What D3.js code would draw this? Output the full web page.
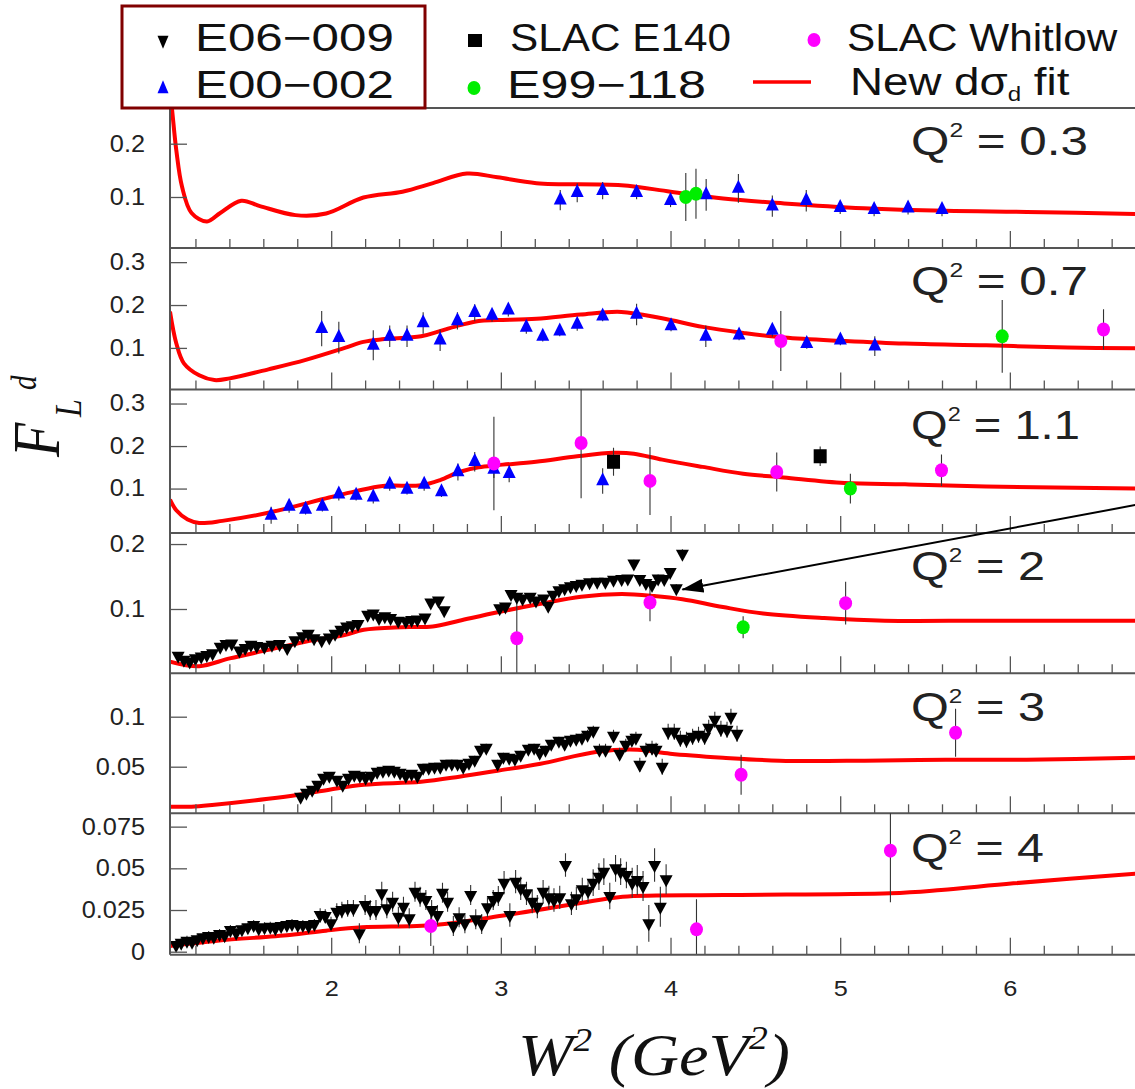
<!DOCTYPE html>
<html>
<head>
<meta charset="utf-8">
<script src="https://cdn.jsdelivr.net/npm/d3@7/dist/d3.min.js"></script>
<style>
body { margin: 0; background: #fff; }
svg { display: block; font-family: "Liberation Sans", Arial, sans-serif; }
</style>
</head>
<body>
<div id="chart"></div>
<script>
// ---- data: F_L^d vs W^2 for six Q^2 bins ----
var q2Labels = ["0.3", "0.7", "1.1", "2", "3", "4"];
var xMajor = [2, 3, 4, 5, 6];
var yTickVals = [[0.1, 0.2], [0.1, 0.2, 0.3], [0.1, 0.2, 0.3], [0.1, 0.2], [0.05, 0.1], [0, 0.025, 0.05, 0.075]];
var yDomains = [[0.0043, 0.267], [0.003, 0.333], [-0.0045, 0.333], [0.001, 0.217], [0.0034, 0.1434], [-0.0018, 0.083]];
var xDomain = [1.05, 6.767];

// new d-sigma_d fit curves [W2, FL]
var fitQ03 = [[1.04,0.32],[1.06,0.27],[1.087,0.188],[1.121,0.119],[1.177,0.070],[1.268,0.054],[1.346,0.070],[1.47,0.093],[1.58,0.083],[1.79,0.066],[1.97,0.069],[2.19,0.099],[2.42,0.110],[2.6,0.126],[2.8,0.144],[2.98,0.137],[3.21,0.126],[3.71,0.122],[4.0,0.110],[4.31,0.097],[4.67,0.088],[5.14,0.079],[5.62,0.074],[6.1,0.072],[6.77,0.068]];
var fitQ07 = [[1.05,0.185],[1.087,0.111],[1.132,0.064],[1.222,0.036],[1.312,0.025],[1.402,0.029],[1.63,0.050],[1.85,0.072],[2.08,0.100],[2.19,0.114],[2.3,0.120],[2.53,0.127],[2.64,0.139],[2.76,0.153],[2.87,0.163],[2.98,0.165],[3.21,0.168],[3.47,0.178],[3.71,0.184],[3.95,0.169],[4.19,0.149],[4.43,0.135],[4.67,0.124],[5.03,0.116],[5.38,0.110],[5.86,0.106],[6.34,0.101],[6.77,0.099]];
var fitQ11 = [[1.05,0.074],[1.087,0.049],[1.154,0.027],[1.222,0.019],[1.358,0.024],[1.629,0.043],[1.988,0.079],[2.147,0.094],[2.305,0.106],[2.53,0.108],[2.642,0.120],[2.755,0.139],[2.869,0.150],[2.981,0.155],[3.207,0.163],[3.45,0.176],[3.664,0.184],[3.784,0.182],[3.951,0.168],[4.189,0.151],[4.428,0.135],[4.667,0.126],[5.025,0.113],[5.382,0.110],[5.86,0.105],[6.77,0.100]];
var fitQ2 = [[1.05,0.019],[1.222,0.012],[1.402,0.024],[1.629,0.037],[1.853,0.050],[2.079,0.060],[2.192,0.068],[2.417,0.072],[2.598,0.073],[2.755,0.082],[2.981,0.095],[3.234,0.108],[3.473,0.119],[3.712,0.123],[3.903,0.120],[4.07,0.115],[4.309,0.103],[4.546,0.093],[4.905,0.086],[5.263,0.082],[5.86,0.082],[6.77,0.082]];
var fitQ3 = [[1.05,0.010],[1.177,0.010],[1.312,0.012],[1.629,0.018],[1.808,0.022],[1.989,0.027],[2.192,0.032],[2.53,0.035],[2.755,0.040],[2.981,0.046],[3.234,0.053],[3.569,0.065],[3.807,0.067],[3.998,0.063],[4.309,0.059],[4.643,0.056],[5.144,0.056],[5.621,0.057],[6.098,0.057],[6.77,0.059]];
var fitQ4 = [[1.048,0.0034],[1.329,0.0066],[1.755,0.010],[1.969,0.0126],[2.182,0.0146],[2.609,0.016],[3.035,0.022],[3.462,0.029],[3.718,0.033],[4.315,0.034],[5.296,0.035],[5.595,0.037],[6.021,0.041],[6.77,0.047]];

// E00-002 (blue up triangles) [W2, FL, err]
var e00Q03 = [[3.35,0.094,0.019],[3.45,0.108,0.018],[3.60,0.112,0.016],[3.80,0.108,0.012],[4.00,0.093,0.012],[4.21,0.104,0.030],[4.40,0.116,0.027],[4.60,0.083,0.020],[4.80,0.093,0.020],[5.00,0.080,0.012],[5.20,0.076,0.012],[5.40,0.079,0.012],[5.60,0.076,0.012]];
var e00Q07 = [[1.944,0.145,0.041],[2.045,0.124,0.037],[2.248,0.106,0.035],[2.345,0.127,0.025],[2.447,0.127,0.025],[2.542,0.158,0.025],[2.642,0.118,0.025],[2.744,0.163,0.020],[2.846,0.182,0.020],[2.948,0.176,0.015],[3.044,0.188,0.015],[3.15,0.148,0.015],[3.247,0.127,0.012],[3.347,0.139,0.012],[3.45,0.155,0.015],[3.60,0.174,0.012],[3.80,0.178,0.025],[4.003,0.151,0.012],[4.208,0.127,0.025],[4.404,0.130,0.012],[4.60,0.141,0.015],[4.803,0.110,0.012],[5.001,0.118,0.012],[5.204,0.104,0.023]];
var e00Q11 = [[1.646,0.037,0.020],[1.752,0.058,0.015],[1.849,0.051,0.012],[1.948,0.058,0.012],[2.045,0.087,0.015],[2.147,0.084,0.012],[2.248,0.080,0.015],[2.345,0.110,0.015],[2.447,0.098,0.012],[2.548,0.110,0.015],[2.650,0.092,0.012],[2.747,0.139,0.020],[2.846,0.163,0.023],[2.959,0.145,0.020],[3.049,0.135,0.020],[3.600,0.118,0.030]];

// E06-009 (black down triangles) [W2, FL, err]
var e06Q2 = [[1.098,0.028,0.003],[1.132,0.022,0.003],[1.166,0.019,0.003],[1.200,0.024,0.003],[1.234,0.027,0.003],[1.267,0.029,0.003],[1.301,0.032,0.003],[1.346,0.042,0.003],[1.380,0.046,0.003],[1.414,0.047,0.003],[1.459,0.036,0.003],[1.493,0.040,0.003],[1.527,0.045,0.003],[1.561,0.043,0.003],[1.606,0.042,0.003],[1.651,0.045,0.003],[1.696,0.046,0.003],[1.741,0.040,0.003],[1.786,0.052,0.003],[1.831,0.058,0.003],[1.865,0.062,0.003],[1.899,0.055,0.003],[1.944,0.052,0.003],[1.989,0.056,0.003],[2.023,0.062,0.003],[2.057,0.068,0.003],[2.091,0.073,0.003],[2.124,0.075,0.003],[2.158,0.077,0.003],[2.215,0.091,0.004],[2.248,0.093,0.004],[2.282,0.086,0.004],[2.316,0.089,0.004],[2.350,0.086,0.004],[2.395,0.082,0.004],[2.440,0.081,0.004],[2.474,0.083,0.004],[2.508,0.084,0.004],[2.553,0.087,0.004],[2.587,0.110,0.004],[2.632,0.113,0.004],[2.666,0.098,0.004],[2.993,0.101,0.005],[3.027,0.104,0.005],[3.060,0.123,0.005],[3.094,0.119,0.005],[3.128,0.116,0.005],[3.173,0.119,0.005],[3.207,0.113,0.005],[3.252,0.116,0.005],[3.279,0.105,0.005],[3.308,0.122,0.005],[3.342,0.129,0.005],[3.376,0.132,0.005],[3.410,0.135,0.005],[3.444,0.137,0.005],[3.478,0.139,0.005],[3.523,0.141,0.005],[3.568,0.142,0.005],[3.616,0.142,0.005],[3.664,0.145,0.005],[3.712,0.146,0.005],[3.748,0.147,0.005],[3.784,0.170,0.006],[3.819,0.146,0.006],[3.855,0.140,0.006],[3.891,0.137,0.006],[3.927,0.147,0.006],[3.963,0.146,0.006],[3.998,0.157,0.006],[4.034,0.132,0.006],[4.070,0.185,0.007]];
var e06Q3 = [[1.820,0.020,0.003],[1.854,0.024,0.003],[1.888,0.027,0.003],[1.921,0.032,0.003],[1.955,0.039,0.003],[1.989,0.041,0.003],[2.034,0.037,0.003],[2.068,0.032,0.003],[2.102,0.039,0.003],[2.136,0.042,0.003],[2.169,0.041,0.003],[2.203,0.039,0.003],[2.237,0.041,0.003],[2.271,0.045,0.003],[2.305,0.046,0.003],[2.339,0.047,0.003],[2.372,0.046,0.003],[2.406,0.044,0.003],[2.440,0.041,0.003],[2.474,0.043,0.003],[2.508,0.041,0.003],[2.542,0.049,0.003],[2.575,0.049,0.003],[2.609,0.050,0.003],[2.643,0.050,0.003],[2.677,0.053,0.003],[2.711,0.053,0.003],[2.745,0.053,0.003],[2.778,0.050,0.003],[2.812,0.054,0.004],[2.846,0.057,0.004],[2.880,0.067,0.004],[2.914,0.069,0.004],[2.981,0.053,0.004],[3.015,0.060,0.004],[3.049,0.059,0.004],[3.083,0.058,0.004],[3.117,0.062,0.004],[3.162,0.068,0.004],[3.196,0.069,0.004],[3.229,0.064,0.004],[3.263,0.067,0.004],[3.297,0.073,0.004],[3.342,0.076,0.004],[3.376,0.073,0.004],[3.410,0.077,0.004],[3.444,0.078,0.005],[3.478,0.079,0.005],[3.511,0.082,0.005],[3.545,0.086,0.005],[3.581,0.067,0.006],[3.617,0.067,0.006],[3.664,0.081,0.006],[3.700,0.063,0.006],[3.736,0.072,0.006],[3.772,0.077,0.006],[3.796,0.079,0.006],[3.819,0.052,0.007],[3.855,0.067,0.007],[3.891,0.069,0.007],[3.915,0.067,0.007],[3.951,0.050,0.008],[3.986,0.085,0.008],[4.022,0.085,0.008],[4.058,0.078,0.008],[4.094,0.077,0.008],[4.130,0.080,0.008],[4.165,0.082,0.008],[4.201,0.080,0.008],[4.225,0.089,0.008],[4.261,0.097,0.008],[4.297,0.088,0.008],[4.333,0.087,0.008],[4.356,0.100,0.008],[4.392,0.083,0.008]];
var e06Q4 = [[1.086,0.0040,0.003],[1.116,0.0054,0.003],[1.150,0.0066,0.003],[1.180,0.0060,0.003],[1.210,0.0074,0.003],[1.244,0.0086,0.003],[1.278,0.0094,0.003],[1.308,0.0090,0.003],[1.342,0.0106,0.003],[1.372,0.0098,0.003],[1.406,0.0130,0.003],[1.440,0.0114,0.003],[1.474,0.0134,0.003],[1.509,0.0146,0.003],[1.543,0.0160,0.003],[1.573,0.0140,0.003],[1.607,0.0146,0.003],[1.641,0.0150,0.003],[1.671,0.0140,0.003],[1.705,0.0154,0.003],[1.739,0.0160,0.003],[1.769,0.0166,0.003],[1.803,0.0160,0.003],[1.833,0.0160,0.003],[1.867,0.0154,0.003],[1.901,0.0166,0.003],[1.935,0.0220,0.004],[1.965,0.0214,0.004],[1.999,0.0170,0.004],[2.033,0.0240,0.005],[2.063,0.0250,0.005],[2.097,0.0260,0.005],[2.131,0.0260,0.005],[2.166,0.0110,0.006],[2.200,0.0280,0.006],[2.230,0.0250,0.006],[2.264,0.0250,0.006],[2.298,0.0350,0.007],[2.328,0.0260,0.006],[2.362,0.0300,0.006],[2.396,0.0210,0.006],[2.426,0.0270,0.006],[2.460,0.0200,0.006],[2.494,0.0360,0.006],[2.524,0.0330,0.006],[2.558,0.0310,0.006],[2.592,0.0250,0.006],[2.626,0.0220,0.006],[2.656,0.0354,0.006],[2.686,0.0300,0.006],[2.720,0.0154,0.006],[2.754,0.0206,0.006],[2.788,0.0170,0.006],[2.822,0.0340,0.006],[2.852,0.0194,0.006],[2.887,0.0166,0.006],[2.921,0.0266,0.006],[2.955,0.0310,0.006],[2.985,0.0334,0.006],[3.019,0.0414,0.007],[3.053,0.0220,0.007],[3.087,0.0420,0.007],[3.117,0.0380,0.007],[3.151,0.0350,0.007],[3.185,0.0300,0.007],[3.215,0.0270,0.007],[3.249,0.0360,0.007],[3.283,0.0326,0.007],[3.313,0.0310,0.007],[3.347,0.0326,0.007],[3.381,0.0520,0.007],[3.416,0.0290,0.007],[3.445,0.0320,0.007],[3.480,0.0374,0.007],[3.514,0.0366,0.007],[3.544,0.0414,0.008],[3.578,0.0450,0.008],[3.607,0.0480,0.008],[3.642,0.0334,0.008],[3.676,0.0500,0.008],[3.706,0.0480,0.008],[3.740,0.0460,0.008],[3.774,0.0414,0.009],[3.804,0.0430,0.009],[3.838,0.0394,0.009],[3.872,0.0170,0.011],[3.906,0.0520,0.010],[3.940,0.0270,0.012],[3.974,0.0434,0.009]];

// SLAC E140 (black squares), E99-118 (green), SLAC Whitlow (magenta) [W2, FL, err]
var e140Q11 = [[3.664,0.163,0.033],[4.882,0.176,0.023]];
var e99Q03 = [[4.09,0.100,0.045],[4.15,0.106,0.047]];
var e99Q07 = [[5.955,0.127,0.085]];
var e99Q11 = [[5.060,0.100,0.035]];
var e99Q2 = [[4.428,0.072,0.017]];
var whitQ07 = [[4.65,0.116,0.070],[6.552,0.143,0.047]];
var whitQ11 = [[2.959,0.159,0.110],[3.473,0.207,0.130],[3.879,0.118,0.080],[4.626,0.139,0.046],[5.597,0.143,0.037]];
var whitQ2 = [[3.094,0.055,0.058],[3.879,0.110,0.029],[5.032,0.109,0.033]];
var whitQ3 = [[4.416,0.042,0.020],[5.680,0.084,0.024]];
var whitQ4 = [[2.587,0.0154,0.012],[4.153,0.0134,0.018],[5.296,0.0606,0.031]];

// arrow annotation in the Q2=2 panel: [W2, FL] tail and tip
var arrowTail = [6.80, 0.263];
var arrowTip = [4.07, 0.130];

var panels = [
    {fit: fitQ03, e00: e00Q03, e06: [], e140: [], e99: e99Q03, whit: []},
    {fit: fitQ07, e00: e00Q07, e06: [], e140: [], e99: e99Q07, whit: whitQ07},
    {fit: fitQ11, e00: e00Q11, e06: [], e140: e140Q11, e99: e99Q11, whit: whitQ11},
    {fit: fitQ2, e00: [], e06: e06Q2, e140: [], e99: e99Q2, whit: whitQ2},
    {fit: fitQ3, e00: [], e06: e06Q3, e140: [], e99: [], whit: whitQ3},
    {fit: fitQ4, e00: [], e06: e06Q4, e140: [], e99: [], whit: whitQ4}
];

// ---- layout ----
var width = 1135, height = 1089;
var plotLeft = 170, plotRight = 1140;
var panelEdges = [108, 248, 389.5, 533, 673.3, 813.3, 954.7];
var q2Baselines = [155, 295, 439, 580, 721, 862];
var q2Right = [1088, 1088, 1080, 1045, 1045, 1044];
var frameColor = "#555";

var svg = d3.select("#chart").append("svg")
    .attr("width", width)
    .attr("height", height);

var defs = svg.append("defs");
defs.append("marker")
    .attr("id", "arrowhead")
    .attr("markerUnits", "userSpaceOnUse")
    .attr("viewBox", "0 0 22 14")
    .attr("refX", 21).attr("refY", 7)
    .attr("markerWidth", 22).attr("markerHeight", 14)
    .attr("orient", "auto")
    .append("path")
    .attr("d", "M0,0 L22,7 L0,14 Z")
    .attr("fill", "#000");

var x = d3.scaleLinear().domain(xDomain).range([plotLeft, plotRight]);
var xMinor = d3.range(12, 68, 2).filter(function(v) { return v % 10 !== 0; }).map(function(v) { return v / 10; });

function triPath(w, h, down) {
    var s = down ? -1 : 1;
    return "M" + (-w / 2) + "," + (s * h / 3) + "L" + (w / 2) + "," + (s * h / 3) + "L0," + (-s * 2 * h / 3) + "Z";
}

// stretch a text horizontally so that it spans [x0, x1]
function fitText(t, x0, x1, baseline) {
    var w = t.node().getBBox().width;
    t.attr("transform", "translate(" + x0 + "," + baseline + ") scale(" + ((x1 - x0) / w) + ",1)");
}

function yFormat(d) { return d === 0 ? "0" : String(d); }

panels.forEach(function(p, i) {
    var top = panelEdges[i], bot = panelEdges[i + 1];
    var y = d3.scaleLinear().domain(yDomains[i]).range([bot, top]);
    var g = svg.append("g").attr("class", "panel");

    defs.append("clipPath").attr("id", "clip" + i)
        .append("rect")
        .attr("x", plotLeft).attr("y", top)
        .attr("width", plotRight - plotLeft).attr("height", bot - top);

    // fit curve
    g.append("path")
        .datum(p.fit)
        .attr("clip-path", "url(#clip" + i + ")")
        .attr("fill", "none")
        .attr("stroke", "#ff0000")
        .attr("stroke-width", 4)
        .attr("stroke-linejoin", "round")
        .attr("d", d3.line()
            .x(function(d) { return x(d[0]); })
            .y(function(d) { return y(d[1]); })
            .curve(d3.curveCatmullRom.alpha(0.5)));

    // error bars for all series
    var allPts = [].concat(p.e00, p.e06, p.e140, p.e99, p.whit);
    g.append("g").attr("clip-path", "url(#clip" + i + ")")
        .selectAll("line")
        .data(allPts)
        .enter().append("line")
        .attr("x1", function(d) { return x(d[0]); })
        .attr("x2", function(d) { return x(d[0]); })
        .attr("y1", function(d) { return y(d[1] - d[2]); })
        .attr("y2", function(d) { return y(d[1] + d[2]); })
        .attr("stroke", "#333")
        .attr("stroke-width", 1.1);

    g.selectAll(".e00")
        .data(p.e00)
        .enter().append("path")
        .attr("class", "e00")
        .attr("transform", function(d) { return "translate(" + x(d[0]) + "," + y(d[1]) + ")"; })
        .attr("d", triPath(13, 13, false))
        .attr("fill", "#0000ff");

    g.selectAll(".e06")
        .data(p.e06)
        .enter().append("path")
        .attr("class", "e06")
        .attr("transform", function(d) { return "translate(" + x(d[0]) + "," + y(d[1]) + ")"; })
        .attr("d", triPath(13, 12, true))
        .attr("fill", "#000");

    g.selectAll(".e140")
        .data(p.e140)
        .enter().append("rect")
        .attr("class", "e140")
        .attr("x", function(d) { return x(d[0]) - 6.5; })
        .attr("y", function(d) { return y(d[1]) - 7; })
        .attr("width", 13).attr("height", 14)
        .attr("fill", "#000");

    g.selectAll(".e99")
        .data(p.e99)
        .enter().append("ellipse")
        .attr("class", "e99")
        .attr("cx", function(d) { return x(d[0]); })
        .attr("cy", function(d) { return y(d[1]); })
        .attr("rx", 6.5).attr("ry", 7)
        .attr("fill", "#00ee00");

    g.selectAll(".whit")
        .data(p.whit)
        .enter().append("ellipse")
        .attr("class", "whit")
        .attr("cx", function(d) { return x(d[0]); })
        .attr("cy", function(d) { return y(d[1]); })
        .attr("rx", 6.5).attr("ry", 7)
        .attr("fill", "#ff00ff");

    // x ticks (inside, on the bottom edge of each panel)
    var xMin = g.append("g").attr("transform", "translate(0," + bot + ")")
        .call(d3.axisBottom(x).tickValues(xMinor).tickSize(-9).tickFormat(""));
    var xMaj = g.append("g").attr("transform", "translate(0," + bot + ")")
        .call(d3.axisBottom(x).tickValues(xMajor).tickSize(-17).tickFormat(""));
    [xMin, xMaj].forEach(function(a) {
        a.select(".domain").remove();
        a.selectAll(".tick line").attr("stroke", frameColor).attr("stroke-width", 1.3);
    });

    // y ticks and labels
    var yAx = g.append("g").attr("transform", "translate(" + plotLeft + ",0)")
        .call(d3.axisLeft(y).tickValues(yTickVals[i]).tickSize(-17).tickPadding(25).tickFormat(yFormat));
    yAx.select(".domain").remove();
    yAx.selectAll(".tick line").attr("stroke", frameColor).attr("stroke-width", 1.3);
    yAx.selectAll(".tick text")
        .attr("font-size", 23)
        .attr("font-family", "Liberation Sans, Arial, sans-serif")
        .attr("fill", "#222")
        .attr("transform", "translate(-25,0) scale(1.1,1) translate(25,0)");

    // bottom frame line
    g.append("line")
        .attr("x1", plotLeft).attr("x2", plotRight)
        .attr("y1", bot).attr("y2", bot)
        .attr("stroke", frameColor).attr("stroke-width", 2);

    // Q^2 label
    var q = g.append("text")
        .attr("font-size", 40)
        .attr("fill", "#222");
    q.append("tspan").text("Q");
    q.append("tspan").attr("font-size", 20).attr("dy", -18).text("2");
    q.append("tspan").attr("dy", 18).text(" = " + q2Labels[i]);
    fitText(q, 911, q2Right[i], q2Baselines[i]);

    if (i === 3) {
        svg.append("line")
            .attr("x1", x(arrowTail[0])).attr("y1", y(arrowTail[1]))
            .attr("x2", x(arrowTip[0])).attr("y2", y(arrowTip[1]))
            .attr("stroke", "#000")
            .attr("stroke-width", 2)
            .attr("marker-end", "url(#arrowhead)");
    }
});

// top frame and left axis line
svg.append("line")
    .attr("x1", plotLeft).attr("x2", plotRight)
    .attr("y1", panelEdges[0]).attr("y2", panelEdges[0])
    .attr("stroke", frameColor).attr("stroke-width", 2);
svg.append("line")
    .attr("x1", plotLeft).attr("x2", plotLeft)
    .attr("y1", panelEdges[0]).attr("y2", panelEdges[6])
    .attr("stroke", frameColor).attr("stroke-width", 2);

// x tick labels under the last panel
var xLab = svg.append("g").attr("transform", "translate(0," + panelEdges[6] + ")")
    .call(d3.axisBottom(x).tickValues(xMajor).tickSize(0).tickPadding(26).tickFormat(d3.format("d")));
xLab.select(".domain").remove();
xLab.selectAll(".tick text")
    .attr("font-size", 22)
    .attr("font-family", "Liberation Sans, Arial, sans-serif")
    .attr("fill", "#222")
    .attr("transform", "scale(1.15,1)");

// axis titles
var xt = svg.append("text")
    .attr("font-family", "Liberation Serif, Times New Roman, serif")
    .attr("font-style", "italic")
    .attr("font-size", 60)
    .attr("fill", "#111");
xt.append("tspan").text("W");
xt.append("tspan").attr("font-size", 34).attr("dy", -24).text("2");
xt.append("tspan").attr("dy", 24).text(" (GeV");
xt.append("tspan").attr("font-size", 34).attr("dy", -26).text("2");
xt.append("tspan").attr("dy", 26).text(")");
fitText(xt, 518, 790, 1075);

var yt = svg.append("text")
    .attr("font-family", "Liberation Serif, Times New Roman, serif")
    .attr("font-style", "italic")
    .attr("font-size", 56)
    .attr("fill", "#111")
    .attr("transform", "translate(59,457) scale(1.2,1) rotate(-90)");
yt.append("tspan").attr("x", 0).attr("y", 0).text("F");
yt.append("tspan").attr("x", 40).attr("y", 18).attr("font-size", 32).text("L");
yt.append("tspan").attr("x", 67).attr("y", -19).attr("font-size", 29).text("d");

// ---- legend ----
var legend = svg.append("g").attr("class", "legend");
var legFont = 38;

function legText(str, x0, x1, baseline) {
    var t = legend.append("text").attr("font-size", legFont).attr("fill", "#111").text(str);
    fitText(t, x0, x1, baseline);
    return t;
}

legend.append("path").attr("d", triPath(11, 13, true)).attr("transform", "translate(163,40)").attr("fill", "#000");
legText("E06\u2212009", 195, 394, 51);
legend.append("path").attr("d", triPath(11, 13, false)).attr("transform", "translate(163,89)").attr("fill", "#0000ff");
legText("E00\u2212002", 195, 394, 98);

legend.append("rect").attr("x", 468).attr("y", 34).attr("width", 14).attr("height", 13).attr("fill", "#000");
legText("SLAC E140", 510, 731, 51);
legend.append("ellipse").attr("cx", 474).attr("cy", 88).attr("rx", 6.5).attr("ry", 7).attr("fill", "#00ee00");
legText("E99\u2212118", 507, 706, 98);

legend.append("ellipse").attr("cx", 814).attr("cy", 40).attr("rx", 6.5).attr("ry", 7).attr("fill", "#ff00ff");
legText("SLAC Whitlow", 847, 1118, 51);
legend.append("line").attr("x1", 753).attr("x2", 811).attr("y1", 82).attr("y2", 82)
    .attr("stroke", "#ff0000").attr("stroke-width", 3.5);
var nt = legend.append("text").attr("font-size", legFont).attr("fill", "#111");
nt.append("tspan").text("New d\u03c3");
nt.append("tspan").attr("font-size", 20).attr("dy", 6).text("d");
nt.append("tspan").attr("dy", -6).text(" fit");
fitText(nt, 850, 1070, 95);

legend.append("rect")
    .attr("x", 122).attr("y", 6)
    .attr("width", 303).attr("height", 102)
    .attr("fill", "none")
    .attr("stroke", "#800000")
    .attr("stroke-width", 3);
</script>
</body>
</html>
